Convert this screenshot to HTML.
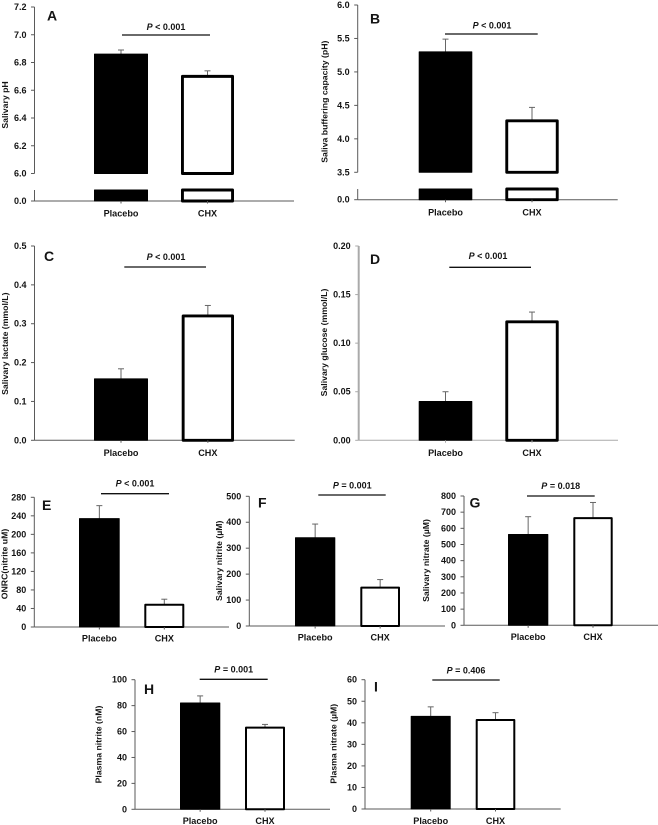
<!DOCTYPE html>
<html lang="en">
<head>
<meta charset="utf-8">
<title>Salivary and plasma measures: Placebo vs CHX</title>
<style>
  html, body { margin: 0; padding: 0; background: #fff; }
  #figure { display: block; width: 658px; height: 825px; filter: blur(0.35px); }
  text { font-family: "Liberation Sans", Arial, sans-serif; font-weight: bold; fill: #141414; }
</style>
</head>
<body>
<svg id="figure" xmlns="http://www.w3.org/2000/svg" width="658" height="825" viewBox="0 0 658 825"></svg>
<script>
// ---- Data ----
const categories = ['Placebo', 'CHX'];

const meansA = [6.86, 6.70];
const errorTopsA = [6.89, 6.74];
const ticksA = ['0.0', '6.0', '6.2', '6.4', '6.6', '6.8', '7.0', '7.2'];

const meansB = [5.30, 4.27];
const errorTopsB = [5.49, 4.47];
const ticksB = ['0.0', '3.5', '4.0', '4.5', '5.0', '5.5', '6.0'];

const meansC = [0.158, 0.320];
const errorTopsC = [0.184, 0.347];
const ticksC = ['0.0', '0.1', '0.2', '0.3', '0.4', '0.5'];

const meansD = [0.040, 0.122];
const errorTopsD = [0.050, 0.132];
const ticksD = ['0.00', '0.05', '0.10', '0.15', '0.20'];

const meansE = [234, 48];
const errorTopsE = [262, 60];
const ticksE = ['0', '40', '80', '120', '160', '200', '240', '280'];

const meansF = [340, 148];
const errorTopsF = [393, 179];
const ticksF = ['0', '100', '200', '300', '400', '500'];

const meansG = [562, 663];
const errorTopsG = [672, 760];
const ticksG = ['0', '100', '200', '300', '400', '500', '600', '700', '800'];

const meansH = [82, 63];
const errorTopsH = [87.5, 65.5];
const ticksH = ['0', '20', '40', '60', '80', '100'];

const meansI = [43, 41.3];
const errorTopsI = [47.4, 44.7];
const ticksI = ['0', '10', '20', '30', '40', '50', '60'];

// ---- Panel definitions (labels + layout; values come from the arrays above) ----
const panels = [
  { id: 'a', letter: 'A', title: 'Salivary pH', p: '< 0.001', means: meansA, errs: errorTopsA, ticks: ticksA,
    axisX: 34.5, axisEnd: 294, yTop: 7, yBase: 173.5, yZero: 201, breakTop: 190, base: 6,
    barX: [[94, 148], [181, 234]], stroke: 2.9, catY: 213.7,
    sig: [122, 210, 35], pY: 27, pX: 166, letterX: 52, letterY: 15.5, titleX: 5, titleY: 105 },
  { id: 'b', letter: 'B', title: 'Saliva buffering capacity (pH)', p: '< 0.001', means: meansB, errs: errorTopsB, ticks: ticksB,
    axisX: 357.7, axisEnd: 617.7, yTop: 5, yBase: 172.3, yZero: 199.7, breakTop: 189, base: 3.5,
    barX: [[418.7, 472.3], [505.3, 558.7]], stroke: 2.9, catY: 212.7,
    sig: [445, 537.7, 34], pY: 25.7, pX: 492, letterX: 375, letterY: 18.5, titleX: 324.5, titleY: 101.7 },
  { id: 'c', letter: 'C', title: 'Salivary lactate (mmol/L)', p: '< 0.001', means: meansC, errs: errorTopsC, ticks: ticksC,
    axisX: 34.5, axisEnd: 294.7, yTop: 246, yBase: 440.3,
    barX: [[94, 148], [181.7, 234]], stroke: 2.9, catY: 453,
    sig: [124.3, 206, 267], pY: 257, pX: 166, letterX: 49, letterY: 256, titleX: 5, titleY: 343.7 },
  { id: 'd', letter: 'D', title: 'Salivary glucose (mmol/L)', p: '< 0.001', means: meansD, errs: errorTopsD, ticks: ticksD,
    axisX: 358.7, axisEnd: 618, yTop: 246, yBase: 440.3, axisWidth: 2, axisColor: '#aaa',
    barX: [[418.7, 472.3], [505.3, 558.7]], stroke: 2.9, catY: 453,
    sig: [449.3, 531, 267.3], pY: 256, pX: 488, letterX: 375, letterY: 259, titleX: 324, titleY: 342.5 },
  { id: 'e', letter: 'E', title: 'ONRC(nitrite uM)', p: '< 0.001', means: meansE, errs: errorTopsE, ticks: ticksE,
    axisX: 34.3, axisEnd: 229, yTop: 497.3, yBase: 627,
    barX: [[79, 119.7], [144.3, 184.3]], stroke: 2, catY: 638.7,
    sig: [101, 169, 493.7], pY: 483.7, pX: 135, letterX: 46.7, letterY: 505, titleX: 4.5, titleY: 564 },
  { id: 'f', letter: 'F', title: 'Salivary nitrite (µM)', p: '= 0.001', means: meansF, errs: errorTopsF, ticks: ticksF,
    axisX: 249.3, axisEnd: 445, yTop: 496.3, yBase: 626,
    barX: [[295, 335.3], [360.3, 400]], stroke: 2, catY: 637.7,
    sig: [318.3, 385.7, 495], pY: 485.3, pX: 352.3, letterX: 262.3, letterY: 502.3, titleX: 219, titleY: 560.8 },
  { id: 'g', letter: 'G', title: 'Salivary nitrate (µM)', p: '= 0.018', means: meansG, errs: errorTopsG, ticks: ticksG,
    axisX: 464, axisEnd: 658, yTop: 496, yBase: 625.3,
    barX: [[508, 548.3], [573.3, 612.7]], stroke: 2, catY: 637,
    sig: [527, 594.7, 496], pY: 486, pX: 560.7, letterX: 475, letterY: 502.7, titleX: 426, titleY: 560.5 },
  { id: 'h', letter: 'H', title: 'Plasma nitrite (nM)', p: '= 0.001', means: meansH, errs: errorTopsH, ticks: ticksH,
    axisX: 135, axisEnd: 330, yTop: 679.7, yBase: 809.3,
    barX: [[180, 220.3], [245, 285]], stroke: 2, catY: 821,
    sig: [199.7, 267.7, 679.3], pY: 669.3, pX: 233.7, letterX: 149, letterY: 689, titleX: 98.3, titleY: 744.5 },
  { id: 'i', letter: 'I', title: 'Plasma nitrate (µM)', p: '= 0.406', means: meansI, errs: errorTopsI, ticks: ticksI,
    axisX: 365, axisEnd: 560.7, yTop: 679.7, yBase: 809,
    barX: [[410.7, 450.7], [475.7, 515.3]], stroke: 2, catY: 821,
    sig: [432.3, 499.7, 680], pY: 670.3, pX: 466, letterX: 376, letterY: 686.7, titleX: 333.3, titleY: 743.8 }
];

const svg = document.getElementById('figure');
const NS = 'http://www.w3.org/2000/svg';

function shape(parent, tag, attrs) {
  const el = document.createElementNS(NS, tag);
  for (const k in attrs) el.setAttribute(k, attrs[k]);
  parent.appendChild(el);
  return el;
}

function makeYScale(panel) {
  const numericTicks = panel.ticks.map(Number);
  const maxTick = Math.max.apply(null, numericTicks);
  const base = panel.base === undefined ? 0 : panel.base;
  return function (v) {
    if (panel.base !== undefined && v < base) return panel.yZero;
    return panel.yBase - (v - base) / (maxTick - base) * (panel.yBase - panel.yTop);
  };
}

panels.forEach(function (panel) {
  const y = makeYScale(panel);
  const broken = panel.base !== undefined;
  const yZero = broken ? panel.yZero : panel.yBase;
  const axisColor = panel.axisColor || '#5a5a5a';
  const axisWidth = panel.axisWidth || 1;

  const g = shape(svg, 'g', {});
  
  

  // x axis (behind the bars)
  const xAxis = shape(g, 'line', { x1: panel.axisX, x2: panel.axisEnd, y1: yZero, y2: yZero, stroke: axisColor, 'stroke-width': 1 });
  
  

  // bars
  panel.means.forEach(function (mean, i) {
    const xr = panel.barX[i];
    const cx = (xr[0] + xr[1]) / 2;
    const isPlacebo = i === 0;

    // error bar (behind the bar)
    const errLine = shape(g, 'line', { x1: cx, x2: cx, y1: y(panel.errs[i]), y2: y(mean), stroke: '#666', 'stroke-width': 1 });
    
    
    const errCap = shape(g, 'line', { x1: cx - 3, x2: cx + 3, y1: y(panel.errs[i]), y2: y(panel.errs[i]), stroke: '#666', 'stroke-width': 1 });
    
    

    const inset = isPlacebo ? 0.5 : panel.stroke / 2;
    const sw = isPlacebo ? 1 : panel.stroke;
    const fill = isPlacebo ? '#000' : '#fff';
    const lowY = broken ? panel.yBase : yZero;
    const bar = shape(g, 'rect', {
      x: xr[0] + inset, width: xr[1] - xr[0] - 2 * inset,
      y: y(mean), height: lowY - y(mean),
      fill: fill, stroke: '#000', 'stroke-width': sw, 'stroke-linejoin': 'round'
    });
    
    

    if (broken) {
      const stub = shape(g, 'rect', {
        x: xr[0] + inset, width: xr[1] - xr[0] - 2 * inset,
        y: panel.breakTop, height: yZero - panel.breakTop,
        fill: fill, stroke: '#000', 'stroke-width': sw, 'stroke-linejoin': 'round'
      });
      
      
    }

    const xTick = shape(g, 'line', { x1: cx, x2: cx, y1: yZero, y2: yZero + 2.5, stroke: axisColor, 'stroke-width': 1 });
    
    

    const cat = shape(g, 'text', { x: cx, y: panel.catY, 'text-anchor': 'middle', 'dominant-baseline': 'central', 'font-size': 9.1 });
    cat.textContent = categories[i];
    
    
  });

  // y axis
  const yAxis = shape(g, 'line', { x1: panel.axisX, x2: panel.axisX, y1: panel.yTop, y2: broken ? panel.yBase : yZero, stroke: axisColor, 'stroke-width': axisWidth });
  
  
  if (broken) {
    const yAxisLow = shape(g, 'line', { x1: panel.axisX, x2: panel.axisX, y1: panel.breakTop, y2: yZero, stroke: axisColor, 'stroke-width': axisWidth });
    
    
  }

  // y ticks
  panel.ticks.forEach(function (label) {
    const ty = y(Number(label));
    const tick = shape(g, 'line', { x1: panel.axisX - 3.5, x2: panel.axisX, y1: ty, y2: ty, stroke: axisColor, 'stroke-width': 1 });
    
    
    const t = shape(g, 'text', { x: panel.axisX - 8, y: ty, 'text-anchor': 'end', 'dominant-baseline': 'central', 'font-size': 9 });
    t.textContent = label;
    
    
  });

  // y title
  const yTitle = shape(g, 'text', {
    transform: 'translate(' + panel.titleX + ',' + panel.titleY + ') rotate(-90)',
    'text-anchor': 'middle', 'dominant-baseline': 'central', 'font-size': 8.7
  });
  yTitle.textContent = panel.title;
  
  

  // significance line + label
  const sigLine = shape(g, 'line', { x1: panel.sig[0], x2: panel.sig[1], y1: panel.sig[2], y2: panel.sig[2], stroke: '#111', 'stroke-width': 1.3 });
  
  

  const pText = shape(g, 'text', { x: panel.pX, y: panel.pY, 'text-anchor': 'middle', 'dominant-baseline': 'central', 'font-size': 9 });
  
  
  const pItalic = shape(pText, 'tspan', { 'font-style': 'italic' });
  pItalic.textContent = 'P';
  const pRest = shape(pText, 'tspan', {});
  pRest.textContent = ' ' + panel.p;

  // panel letter
  const letter = shape(g, 'text', { x: panel.letterX, y: panel.letterY, 'text-anchor': 'middle', 'dominant-baseline': 'central', 'font-size': 14 });
  letter.textContent = panel.letter;
  
  
});
</script>
</body>
</html>
